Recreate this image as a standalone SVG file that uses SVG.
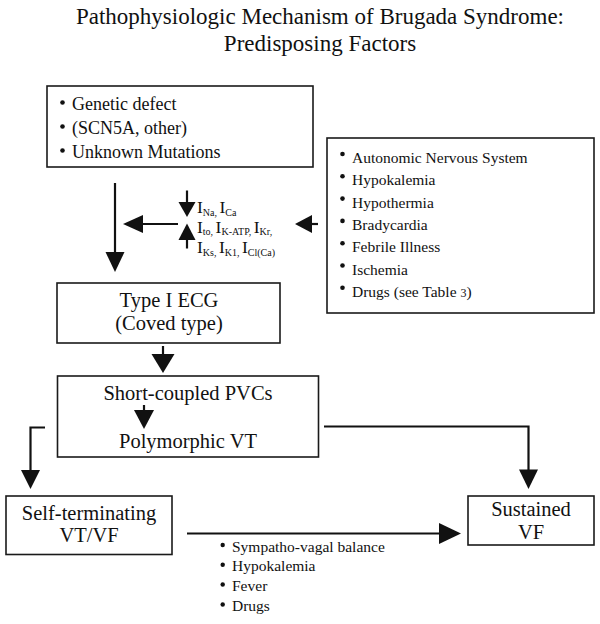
<svg xmlns="http://www.w3.org/2000/svg" width="600" height="624" viewBox="0 0 600 624">
<style>
text{font-family:"Liberation Serif","Times New Roman","DejaVu Serif",serif;fill:#111}
.title{font-size:23px;text-anchor:middle}
.box{fill:#fff;stroke:#1a1a1a;stroke-width:1.6}
.big{font-size:20.5px;text-anchor:middle}
.l18{font-size:18px}
.l15{font-size:15.5px}
.cur{font-size:17.5px}
.sub{font-size:10px}
.bul{fill:#111}
.ln{fill:none;stroke:#111;stroke-width:2.2}
.hd{fill:#111}
</style>
<rect width="600" height="624" fill="#fff"/>
<g id="title">
<text class="title" x="320" y="24">Pathophysiologic Mechanism of Brugada Syndrome:</text>
<text class="title" x="320" y="51">Predisposing Factors</text>
</g>
<g id="genetic">
<rect class="box" x="47" y="86" width="266" height="81"/>
<circle class="bul" cx="62.5" cy="102.5" r="2.3"/>
<circle class="bul" cx="62.5" cy="126.5" r="2.3"/>
<circle class="bul" cx="62.5" cy="150.5" r="2.3"/>
<text class="l18" x="72" y="110">Genetic defect</text>
<text class="l18" x="72" y="134">(SCN5A, other)</text>
<text class="l18" x="72" y="158">Unknown Mutations</text>
</g>
<g id="currents">
<text class="cur" x="197" y="213">I<tspan class="sub" dy="2.5">Na, </tspan><tspan dy="-2.5">I</tspan><tspan class="sub" dy="2.5">Ca</tspan></text>
<text class="cur" x="197" y="232.5">I<tspan class="sub" dy="2.5">to, </tspan><tspan dy="-2.5">I</tspan><tspan class="sub" dy="2.5">K-ATP, </tspan><tspan dy="-2.5">I</tspan><tspan class="sub" dy="2.5">Kr,</tspan></text>
<text class="cur" x="197" y="253">I<tspan class="sub" dy="2.5">Ks, </tspan><tspan dy="-2.5">I</tspan><tspan class="sub" dy="2.5">K1, </tspan><tspan dy="-2.5">I</tspan><tspan class="sub" dy="2.5">Cl(Ca)</tspan></text>
</g>
<g id="factors">
<rect class="box" x="327" y="138" width="267" height="175"/>
<circle class="bul" cx="342.5" cy="154" r="2.3"/>
<circle class="bul" cx="342.5" cy="176.3" r="2.3"/>
<circle class="bul" cx="342.5" cy="198.6" r="2.3"/>
<circle class="bul" cx="342.5" cy="220.9" r="2.3"/>
<circle class="bul" cx="342.5" cy="243.2" r="2.3"/>
<circle class="bul" cx="342.5" cy="265.5" r="2.3"/>
<circle class="bul" cx="342.5" cy="287.8" r="2.3"/>
<text class="l15" x="352" y="163">Autonomic Nervous System</text>
<text class="l15" x="352" y="185.3">Hypokalemia</text>
<text class="l15" x="352" y="207.6">Hypothermia</text>
<text class="l15" x="352" y="229.9">Bradycardia</text>
<text class="l15" x="352" y="252.2">Febrile Illness</text>
<text class="l15" x="352" y="274.5">Ischemia</text>
<text class="l15" x="352" y="296.8">Drugs (see Table <tspan font-size="12">3</tspan>)</text>
</g>
<g id="ecg">
<rect class="box" x="57" y="283" width="223" height="60"/>
<text class="big" x="169" y="306.5">Type I ECG</text>
<text class="big" x="169" y="329.5">(Coved type)</text>
</g>
<g id="pvc">
<rect class="box" x="57.5" y="376" width="261" height="81"/>
<text class="big" x="188" y="400">Short-coupled PVCs</text>
<text class="big" x="188" y="448">Polymorphic VT</text>
</g>
<g id="selfterm">
<rect class="box" x="6" y="496" width="166" height="58.5"/>
<text class="big" x="89" y="520">Self-terminating</text>
<text class="big" x="89" y="541.5">VT/VF</text>
</g>
<g id="sustained">
<rect class="box" x="468" y="496" width="126" height="49"/>
<text class="big" x="531" y="516">Sustained</text>
<text class="big" x="531" y="539">VF</text>
</g>
<g id="modulators">
<circle class="bul" cx="222.7" cy="545" r="2.2"/>
<circle class="bul" cx="222.7" cy="564.8" r="2.2"/>
<circle class="bul" cx="222.7" cy="584.5" r="2.2"/>
<circle class="bul" cx="222.7" cy="604.5" r="2.2"/>
<text class="l15" x="232" y="551.5">Sympatho-vagal balance</text>
<text class="l15" x="232" y="571.3">Hypokalemia</text>
<text class="l15" x="232" y="591">Fever</text>
<text class="l15" x="232" y="611">Drugs</text>
</g>
<g id="connectors">
<line class="ln" x1="115" y1="183" x2="115" y2="254"/>
<polygon class="hd" points="105.5,252 124.5,252 115,272"/>
<line class="ln" x1="178" y1="224" x2="141" y2="224"/>
<polygon class="hd" points="143,215 143,233 123,224"/>
<line class="ln" x1="187" y1="190.5" x2="187" y2="203"/>
<polygon class="hd" points="178.5,202 195.5,202 187,217"/>
<line class="ln" x1="187" y1="239" x2="187" y2="248.5"/>
<polygon class="hd" points="178.5,240 195.5,240 187,223.5"/>
<line class="ln" x1="318" y1="224" x2="310" y2="224"/>
<polygon class="hd" points="312,215 312,233 295,224"/>
<line class="ln" x1="163" y1="346" x2="163" y2="356"/>
<polygon class="hd" points="151.5,354 174.5,354 163,373"/>
<line class="ln" x1="144" y1="405" x2="144" y2="411"/>
<polygon class="hd" points="134,410 154,410 144,429"/>
<path class="ln" d="M45,427.5 H30.5 V471"/>
<polygon class="hd" points="21,470 40,470 30.5,489"/>
<path class="ln" d="M324,426.5 H528.5 V471"/>
<polygon class="hd" points="519,469.5 538,469.5 528.5,489"/>
<line class="ln" x1="187" y1="533.5" x2="441" y2="533.5"/>
<polygon class="hd" points="439,523 439,544 461,533.5"/>
</g>
</svg>
